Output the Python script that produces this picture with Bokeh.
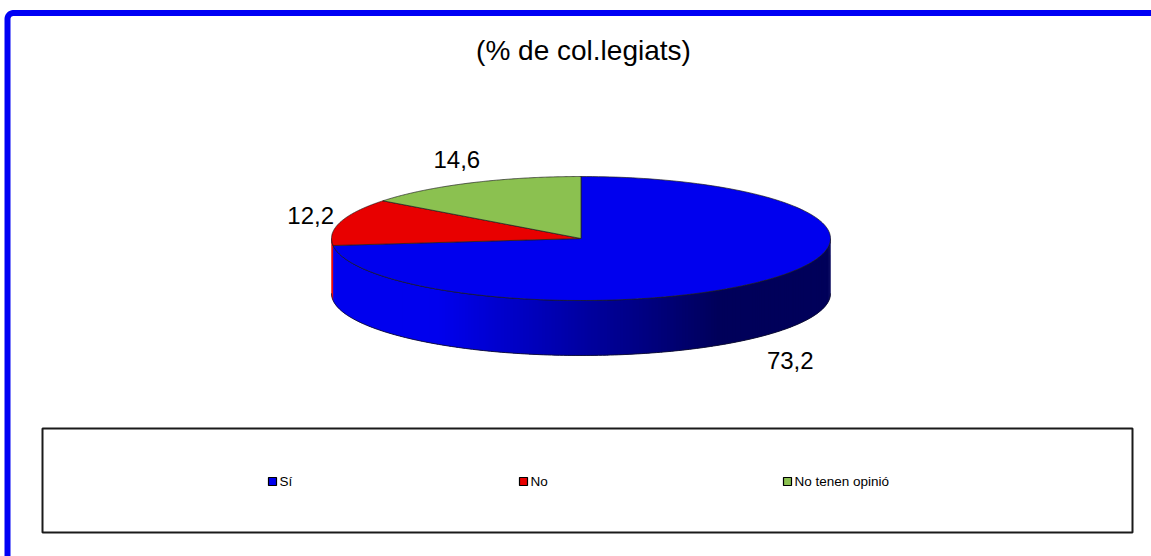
import numpy as np
from bokeh.plotting import figure
from bokeh.models import Range1d
from bokeh.embed import file_html
from bokeh.resources import INLINE
from bokeh.core.properties import value

# ---- data ----
title = "(% de col.legiats)"
categories = ["Sí", "No", "No tenen opinió"]
values = [73.2, 12.2, 14.6]
labels = ["73,2", "12,2", "14,6"]
colors = ["#0000EE", "#E80000", "#8BC150"]

# ---- layout ----
W, H = 1151, 556
p = figure(width=W, height=H, x_range=Range1d(0, W), y_range=Range1d(H, 0),
           output_backend="svg", toolbar_location=None, min_border=0,
           x_axis_type=None, y_axis_type=None)
p.grid.visible = False
p.outline_line_color = None
p.background_fill_color = "white"
p.border_fill_color = "white"

FONT = value("Liberation Sans")

# frame border (rounded blue)
ca = np.linspace(np.pi, 1.5 * np.pi, 12)
bx = [7.0] + list(13 + 6 * np.cos(ca)) + [1180.0]
by = [600.0] + list(18.5 + 6 * np.sin(ca)) + [12.5]
p.line(bx, by, line_color="#0000F5", line_width=6, line_join="round")

# title
p.text(x=[583], y=[50], text=[title], text_font=FONT, text_font_size="28px",
       text_align="center", text_baseline="middle", text_color="black")

# ---- 3D pie geometry ----
cx, cy, a, b, depth = 580.5, 238.0, 249.5, 62.0, 55.0
vals = np.array(values, dtype=float)
frac = vals / vals.sum()
cum = np.concatenate([[0], np.cumsum(frac)])
start = 90 - 360 * cum[:-1]   # math degrees, going clockwise
end = 90 - 360 * cum[1:]


def hex2rgb(h):
    h = h.lstrip("#")
    return [int(h[i:i + 2], 16) for i in (0, 2, 4)]


def slice_of(t_deg):
    theta = ((90 - t_deg) % 360) / 360.0
    return int(np.searchsorted(cum, theta, side="right") - 1)


# side wall (front half) - overlapping strips to avoid seams
N = 240
ts = np.linspace(180, 360, N + 1)
sx, sy, sc = [], [], []
for i in range(N):
    ta = ts[i]
    tb = min(ts[i] + 2.2 * (ts[1] - ts[0]), 360)
    k = min(slice_of((ts[i] + ts[i + 1]) / 2), len(values) - 1)
    tt = np.radians(np.linspace(ta, tb, 4))
    xs = cx + a * np.cos(tt)
    ys = cy - b * np.sin(tt)
    xm = xs.mean()
    f = np.clip((xm - 440) / (720 - 440), 0, 1)
    shade = 1.0 - 0.62 * f
    r, g, bb = hex2rgb(colors[k])
    col = "#%02x%02x%02x" % (int(r * shade), int(g * shade), int(bb * shade))
    sx.append(list(xs) + list(xs[::-1]))
    sy.append(list(ys) + list(ys[::-1] + depth))
    sc.append(col)
p.patches(sx, sy, fill_color=sc, line_color=None)

# side outlines
tt = np.radians(np.linspace(180, 360, 200))
ex = cx + a * np.cos(tt)
ey = cy - b * np.sin(tt)
p.line(ex, ey + depth, line_color="#101030", line_width=0.9)
p.line(ex, ey, line_color="#101030", line_width=0.9)

# top slices
txs, tys = [], []
for s, e in zip(start, end):
    t = np.radians(np.linspace(s, e, 200))
    txs.append([cx] + list(cx + a * np.cos(t)))
    tys.append([cy] + list(cy - b * np.sin(t)))
p.patches(txs, tys, fill_color=colors, line_color="#202020", line_width=0.7)

# data labels
mid = np.radians((start + end) / 2)
dx, dy = 31.0, 26.0
lx = cx + (a + dx) * np.cos(mid)
ly = cy - (b + dy) * np.sin(mid) + np.where(np.sin(mid) < 0, depth + 8, 0)
p.text(x=list(lx), y=list(ly), text=labels, text_font=FONT, text_font_size="24px",
       text_align="center", text_baseline="middle", text_color="black")

# ---- legend ----
p.quad(left=[42], right=[1132], top=[428], bottom=[532], fill_color=None,
       line_color="#1a1a1a", line_width=2)
leg_x = [272, 523, 787]
leg_y = [481] * 3
p.scatter(leg_x, leg_y, marker="square", size=8, fill_color=colors,
          line_color="black", line_width=1.2)
p.text(x=[xx + 7 for xx in leg_x], y=leg_y, text=categories, text_font=FONT,
       text_font_size="13.5px", text_align="left", text_baseline="middle",
       text_color="black")

open("out.html", "w").write(file_html(p, INLINE))
